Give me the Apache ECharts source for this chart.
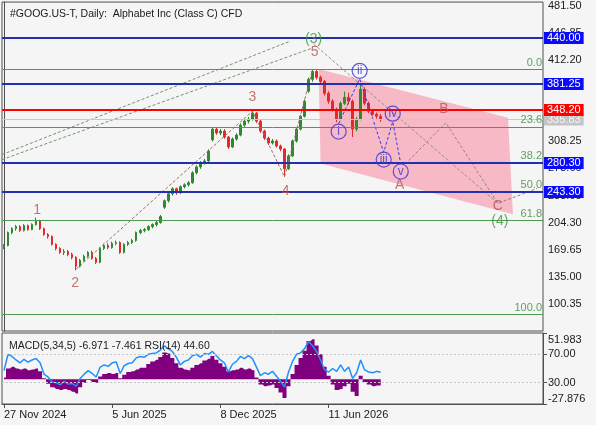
<!DOCTYPE html>
<html>
<head>
<meta charset="utf-8">
<title>GOOG daily</title>
<script src="https://cdn.jsdelivr.net/npm/echarts@6/dist/echarts.min.js"></script>
<style>
  html, body { margin: 0; padding: 0; background: #f5f5f5; }
  #chart { width: 596px; height: 425px; }
</style>
</head>
<body>
<div id="chart"></div>
<script>
const slotCount = 135 // bars + empty forecast space
const dateTicks = { 0: '27 Nov 2024', 27: '5 Jun 2025', 54: '8 Dec 2025', 81: '11 Jun 2026' }
const priceTicks = [100.35, 135.00, 169.65, 204.30, 238.95, 273.60, 308.25, 342.90, 377.55, 412.20, 446.85, 481.50]
const rsiTicks = [30, 70]
const macdRange = [-27.876, 51.983]

// [open, close, low, high]
const candles = [
  [172.0,175.2,170.5,177.0],[175.2,191.7,174.0,193.0],[191.7,196.8,189.5,198.5],[196.8,199.3,194.0,201.5],
  [199.3,194.3,192.5,201.0],[194.3,200.6,193.0,202.5],[200.6,195.5,194.0,202.0],[195.5,201.9,194.5,203.5],
  [201.9,207.0,200.5,210.8],[207.0,196.8,195.0,208.0],[196.8,189.2,187.5,198.0],[189.2,186.7,184.0,191.0],
  [186.7,176.5,175.0,188.0],[176.5,171.4,169.0,178.0],[171.4,166.3,164.5,173.0],[166.3,167.6,163.0,170.5],
  [167.6,163.8,161.5,169.5],[163.8,160.0,157.5,166.0],[160.0,148.6,143.5,161.5],[148.6,156.2,147.0,158.0],
  [156.2,161.3,154.5,163.5],[161.3,166.3,159.5,168.0],[166.3,158.7,157.0,168.5],[158.7,153.7,151.5,160.5],
  [153.7,171.4,152.5,173.0],[171.4,175.2,169.5,177.5],[175.2,172.7,170.5,178.0],[172.7,177.8,171.0,180.0],
  [177.8,179.0,175.5,181.5],[179.0,166.3,164.5,180.5],[166.3,176.5,165.0,178.0],[176.5,179.0,174.5,181.0],
  [179.0,181.6,177.0,183.5],[181.6,191.7,180.0,193.0],[191.7,194.3,189.5,196.5],[194.3,195.5,192.0,197.5],
  [195.5,199.3,193.5,201.0],[199.3,201.9,197.0,203.5],[201.9,204.4,199.5,206.5],[204.4,212.0,203.0,214.0],
  [224.0,232.3,222.0,234.0],[232.3,241.2,230.0,243.5],[241.2,247.6,239.0,249.5],[247.6,242.5,240.0,249.0],
  [242.5,250.1,241.0,252.0],[250.1,252.7,248.0,254.5],[252.7,255.2,250.5,257.5],[255.2,267.9,254.0,270.0],
  [267.9,275.5,266.0,277.5],[275.5,280.6,273.0,283.0],[280.6,283.1,278.5,285.5],[283.1,295.8,281.5,298.0],
  [310.0,323.7,308.0,326.0],[323.7,318.7,316.5,326.5],[318.7,321.2,316.0,324.0],[321.2,313.6,311.5,323.5],
  [313.6,300.9,298.5,315.0],[300.9,311.0,299.5,313.0],[311.0,316.1,309.0,318.5],[316.1,328.8,314.5,331.0],
  [328.8,333.9,326.5,336.0],[333.9,336.4,331.0,339.0],[336.4,344.0,334.5,346.6],[344.0,333.9,331.5,345.5],
  [333.9,321.2,319.0,335.5],[321.2,312.3,310.0,323.0],[312.3,306.0,303.5,314.0],[306.0,308.5,304.0,311.0],
  [308.5,302.2,300.0,310.5],[302.2,298.3,295.5,304.0],[298.3,273.0,262.8,299.5],[273.0,289.5,271.5,291.5],
  [289.5,308.5,288.0,310.5],[308.5,323.7,306.5,325.5],[323.7,340.2,322.0,342.0],[340.2,359.3,338.5,361.5],
  [372.0,387.2,370.0,389.5],[387.2,397.3,384.0,400.3],[397.3,389.7,387.0,399.0],[389.7,384.7,381.5,392.0],
  [384.7,369.4,366.5,386.5],[369.4,359.3,356.0,372.0],[359.3,349.1,346.0,362.0],[349.1,336.4,332.6,351.0],
  [336.4,356.7,335.0,359.0],[356.7,364.3,354.5,371.5],[364.3,359.3,355.5,370.0],[359.3,323.7,313.6,361.5],
  [323.7,336.4,321.0,339.0],[336.4,374.5,335.0,380.8],[374.5,356.7,354.0,377.0],[356.7,346.6,344.0,359.0],
  [346.6,342.8,340.0,349.5],[342.8,340.2,337.0,345.0],[340.2,335.8,333.0,343.0]
]

const macd = [
  2, 12, 14, 12, 11, 12, 10, 11, 12, 9, 1, -5, -9, -11, -12, -11, -12, -14, -16, -9,
  -4, -1, -3, -4, 3, 6, 7, 6, 7, 1, 5, 8, 9, 11, 13, 13, 17, 20, 22, 25,
  30, 29, 24, 18, 13, 11, 10, 13, 16, 18, 21, 23, 26, 22, 18, 14, 9, 10, 11, 13,
  11, 12, 10, 2, -6, -8, -7, -6, -10, -15, -21, -8, 6, 16, 24, 32, 43, 45, 38, 28,
  14, 4, -6, -12, -11, -8, -5, -14, -19, 4, -3, -6, -8, -7, -7
]

const rsi = [
  47, 70, 67, 62, 58, 63, 59, 62, 64, 58, 42, 38, 31, 30, 27, 32, 28, 29, 25, 36,
  42, 47, 43, 38, 52, 55, 53, 58, 59, 43, 54, 57, 58, 65, 67, 66, 70, 71, 72, 76,
  82, 78, 74, 66, 55, 60, 62, 68, 70, 66, 71, 70, 74, 68, 62, 58, 45, 56, 60, 67,
  64, 68, 64, 52, 40, 44, 42, 46, 39, 32, 24, 45, 60, 70, 72, 78, 88, 82, 74, 62,
  48, 45, 50, 46, 55, 46, 52, 36, 44, 62, 48, 45, 44, 46, 44.6
]

const blueLevels = [440.00, 381.25, 280.30, 243.30]
const redLevel = 348.20
const lastPrice = 335.83
const fibLevels = [['0.0', 400.3], ['23.6', 326.5], ['38.2', 280.9], ['50.0', 244.0], ['61.8', 207.1], ['100.0', 87.7]]

// wave drawing, [slot, price]
const impulsePath = [[18, 145.0], [62, 346.6], [70, 262.8], [77, 400.3]]
const subwavePath = [[83.5, 330.6], [88.75, 387.9], [94.75, 294.0], [97, 333.2], [99, 279.8]]
const forecastPath = [[101, 283.6], [110.25, 331.9], [123.25, 228.9], [133, 248.0]]
const trendLine = [[77.25, 432.4], [123.25, 228.9]]
const channelLineA = [[-0.5, 291.2], [71.5, 436.2]]
const channelLineB = [[-0.5, 284.8], [77, 427.3]]
const correctionBox = [[78.5, 400.6], [125.75, 338.3], [127, 214.9], [79, 279.8]]

const waveLabels = [[8.25, 219.9, '1'], [17.75, 127.1, '2'], [62, 365.0, '3'], [70.25, 244.1, '4'], [77.5, 422.2, '5'],
  [98.75, 251.8, 'A'], [109.75, 349.7, 'B'], [123.25, 225.0, 'C']]
const degreeLabels = [[77.25, 438.8, '(3)'], [123.75, 206.0, '(4)']]
const subwaveLabels = [[83.5, 320.5, 'i'], [88.75, 398.1, 'ii'], [94.75, 284.8, 'iii'], [97, 343.4, 'iv'], [99, 269.6, 'v']]

const font = 'Liberation Sans, Arial, sans-serif'
const axisGray = '#505050'
const textDark = '#1a1a1a'
const slots = Array.from({ length: slotCount }, (_, i) => i)

const boxLabel = (value, bg, fg) => ({
  show: true, position: 'end', distance: 1, formatter: value.toFixed(2),
  backgroundColor: bg, color: fg, padding: [1, 3, 0, 3], fontSize: 11, lineHeight: 11, fontFamily: font
})

const markLines = []
fibLevels.forEach(f => markLines.push({
  yAxis: f[1],
  lineStyle: { color: '#4f9a4f', width: 1, type: 'solid' },
  label: { show: true, position: 'insideEndTop', distance: 1, formatter: f[0], color: '#5f9f5f', fontSize: 11, fontFamily: font }
}))
markLines.push({ yAxis: lastPrice, lineStyle: { color: '#c8c8c8', width: 1, type: 'solid' }, label: boxLabel(lastPrice, '#c4c4c4', '#f4f4f4') })
markLines.push({ yAxis: redLevel, lineStyle: { color: '#ff0000', width: 2, type: 'solid' }, label: boxLabel(redLevel, '#ff0000', '#ffffff') })
blueLevels.forEach(v => markLines.push({
  yAxis: v, lineStyle: { color: '#2030b0', width: 2, type: 'solid' }, label: boxLabel(v, '#0a0aff', '#ffffff')
}))

const dashed = (data, color, dash) => ({
  type: 'line', xAxisIndex: 1, yAxisIndex: 0, data: data, symbol: 'none', silent: true, z: 4,
  lineStyle: { color: color, width: 1, type: dash || [3, 2] }
})

const textMarks = (data, color, size) => ({
  type: 'scatter', xAxisIndex: 1, yAxisIndex: 0, data: data, symbolSize: 1, silent: true, z: 6,
  itemStyle: { color: 'rgba(0,0,0,0)' },
  label: { show: true, position: 'inside', formatter: p => p.data[2], color: color, fontSize: size, fontFamily: font }
})

const chart = echarts.init(document.getElementById('chart'))
chart.setOption({
  animation: false,
  backgroundColor: '#f5f5f5',
  textStyle: { fontFamily: font },
  title: [
    { text: '#GOOG.US-T, Daily:  Alphabet Inc (Class C) CFD', left: 5, top: 4,
      textStyle: { fontSize: 10.5, fontWeight: 'normal', color: textDark, fontFamily: font } },
    { text: 'MACD(5,34,5) -6.971 -7.461 RSI(14) 44.60', left: 4, top: 336,
      textStyle: { fontSize: 10.5, fontWeight: 'normal', color: textDark, fontFamily: font } }
  ],
  grid: [
    { left: 2, right: 53, top: 1, bottom: 94, show: true, borderColor: axisGray, borderWidth: 1 },
    { left: 2, right: 53, top: 333, bottom: 21, show: true, borderColor: axisGray, borderWidth: 1 }
  ],
  xAxis: [
    { type: 'category', gridIndex: 0, data: slots, boundaryGap: true, show: false },
    { type: 'value', gridIndex: 0, min: -0.5, max: slotCount - 0.5, show: false },
    { type: 'category', gridIndex: 1, data: slots, boundaryGap: true,
      axisLine: { lineStyle: { color: axisGray } },
      axisTick: { show: true, alignWithLabel: true, length: 4, interval: i => i in dateTicks, lineStyle: { color: axisGray } },
      axisLabel: { interval: i => i in dateTicks, formatter: (v, i) => dateTicks[i] || '', align: 'left',
        margin: 5, fontSize: 11, color: textDark, fontFamily: font },
      splitLine: { show: false } }
  ],
  yAxis: [
    { type: 'value', gridIndex: 0, position: 'right', min: 66.0, max: 485.9,
      axisLine: { show: true, lineStyle: { color: axisGray } },
      axisTick: { show: false },
      axisLabel: { customValues: priceTicks, formatter: v => v.toFixed(2), margin: 5, fontSize: 11, color: textDark, fontFamily: font },
      splitLine: { show: false } },
    { type: 'value', gridIndex: 1, position: 'right', min: 0, max: 100,
      axisLine: { show: true, lineStyle: { color: axisGray } },
      axisTick: { show: true, length: 4, customValues: rsiTicks, lineStyle: { color: axisGray } },
      axisLabel: { customValues: rsiTicks, formatter: v => v.toFixed(2), margin: 5, fontSize: 11, color: textDark, fontFamily: font },
      splitLine: { show: false } },
    { type: 'value', gridIndex: 1, position: 'right', min: macdRange[0], max: macdRange[1],
      axisLine: { show: false },
      axisTick: { show: true, length: 4, customValues: macdRange, lineStyle: { color: axisGray } },
      axisLabel: { customValues: macdRange, margin: 5,
        formatter: v => (v > 0 ? '{t|' : '{b|') + v.toFixed(3) + '}',
        rich: {
          t: { padding: [13, 0, 0, 0], fontSize: 11, color: textDark, fontFamily: font },
          b: { padding: [0, 0, 10, 0], fontSize: 11, color: textDark, fontFamily: font }
        } },
      splitLine: { show: false } }
  ],
  series: [
    { type: 'custom', xAxisIndex: 1, yAxisIndex: 0, data: correctionBox, silent: true, z: 1,
      encode: { x: 0, y: 1 },
      renderItem: (params, api) => params.dataIndex === 0 ? {
        type: 'polygon',
        shape: { points: correctionBox.map(p => api.coord(p)) },
        style: { fill: '#f7b9c5' }
      } : null },
    { type: 'candlestick', xAxisIndex: 0, yAxisIndex: 0, data: candles, barWidth: 2, z: 3,
      itemStyle: { color: '#2d8a2d', color0: '#e22a2a', borderColor: '#2d8a2d', borderColor0: '#e22a2a', borderWidth: 1 },
      markLine: { silent: true, symbol: ['none', 'none'], animation: false, data: markLines } },
    dashed(channelLineA, '#6f946f'),
    dashed(channelLineB, '#6f946f'),
    dashed(impulsePath, '#a06a66'),
    dashed(trendLine, '#9a8a8a'),
    dashed(forecastPath, '#9a8080'),
    dashed(subwavePath, '#3a3ae0', [3, 2]),
    { type: 'scatter', xAxisIndex: 1, yAxisIndex: 0, data: subwaveLabels, symbol: 'circle', symbolSize: 15, silent: true, z: 7,
      itemStyle: { color: 'rgba(0,0,0,0)', borderColor: '#3434d6', borderWidth: 1.2 },
      label: { show: true, position: 'inside', formatter: p => p.data[2], color: '#3434d6', fontSize: 12, fontFamily: font } },
    textMarks(waveLabels, '#b45552', 14),
    textMarks(degreeLabels, '#3d943d', 14),
    { type: 'line', xAxisIndex: 2, yAxisIndex: 2, data: macd, step: 'middle', symbol: 'none', silent: true,
      lineStyle: { width: 0 }, areaStyle: { color: '#800080', opacity: 1, origin: 0 } },
    { type: 'line', xAxisIndex: 2, yAxisIndex: 1, data: rsi, symbol: 'none', silent: true,
      lineStyle: { color: '#1e90ff', width: 1.5 },
      markLine: { silent: true, symbol: ['none', 'none'], animation: false, label: { show: false },
        lineStyle: { color: '#c8c8c8', type: [2, 2], width: 1 },
        data: rsiTicks.map(v => ({ yAxis: v })) } }
  ]
})
</script>
</body>
</html>
